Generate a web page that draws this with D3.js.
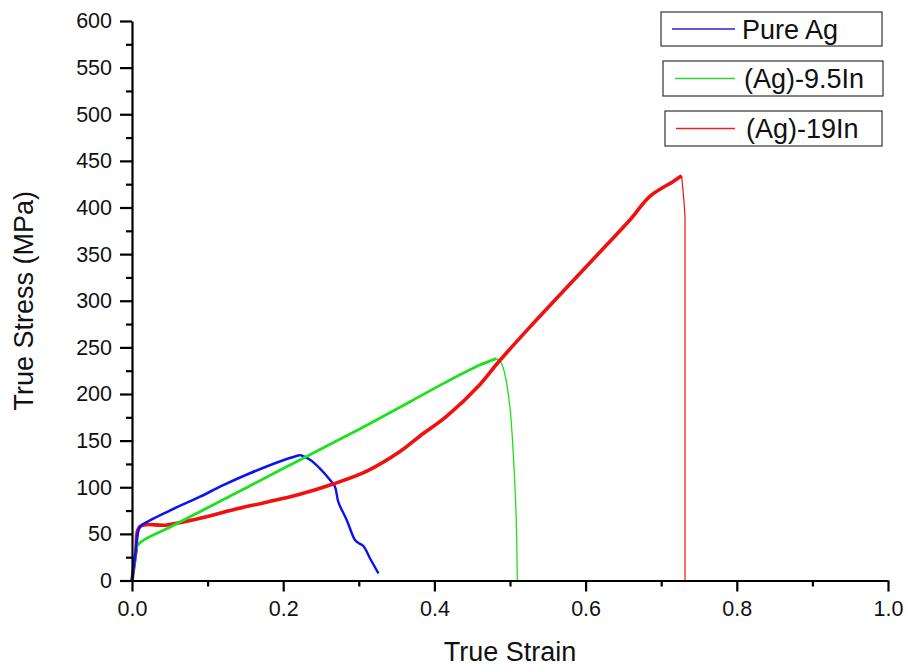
<!DOCTYPE html>
<html>
<head>
<meta charset="utf-8">
<script src="https://cdn.jsdelivr.net/npm/d3@7"></script>
<style>
  body { margin: 0; background: #fff; }
  svg { font-family: "Liberation Sans", Arial, sans-serif; }
</style>
</head>
<body>
<div id="chart"></div>
<script>
// values: [true strain, true stress (MPa)]
const pureAgLoad = [
  [0, 0], [0.004, 25], [0.0097, 57], [0.015, 60.6], [0.05, 75], [0.09, 89.9],
  [0.12, 102], [0.156, 115], [0.2, 129], [0.222, 134.6]
];
const pureAgFracture = [
  [0.222, 134.6], [0.235, 129.8], [0.25, 119], [0.262, 107.8], [0.2685, 100.6],
  [0.273, 84], [0.284, 64.9], [0.295, 43.4], [0.3, 40], [0.306, 37],
  [0.316, 22], [0.326, 7.7]
];
const ag95InLoad = [
  [0, 0], [0.004, 22], [0.0075, 38], [0.05, 57], [0.1, 78], [0.15, 99],
  [0.2, 120], [0.25, 141], [0.3, 162], [0.33, 175], [0.372, 193.6],
  [0.416, 213], [0.46, 231], [0.482, 238]
];
const ag95InFracture = [
  [0.482, 238], [0.488, 234], [0.493, 222], [0.5, 185], [0.505, 126],
  [0.508, 72], [0.5097, 0]
];
const ag19InLoad = [
  [0, 0], [0.005, 30], [0.0106, 57.7], [0.046, 59.5], [0.09, 66.7],
  [0.134, 76], [0.178, 84], [0.222, 92.5], [0.266, 103.5], [0.31, 117],
  [0.354, 138], [0.381, 155], [0.416, 176], [0.46, 210], [0.4845, 234],
  [0.5265, 272], [0.584, 322], [0.628, 360], [0.66, 388], [0.685, 412],
  [0.716, 428], [0.727, 434]
];
const ag19InFracture = [
  [0.727, 434], [0.73, 408], [0.7315, 390], [0.7315, 0]
];

const seriesNames = ["Pure Ag", "(Ag)-9.5In", "(Ag)-19In"];
const seriesColors = ["#0a14f0", "#1ee01e", "#f01010"];
const legendColors = ["#2424c8", "#33d033", "#f02020"];

const xTicks = [0, 0.2, 0.4, 0.6, 0.8, 1.0];
const xMinorTicks = [0.1, 0.3, 0.5, 0.7, 0.9];
const yTicks = [0, 50, 100, 150, 200, 250, 300, 350, 400, 450, 500, 550, 600];
const yMinorTicks = d3.range(25, 600, 50);

const WIDTH = 907;
const HEIGHT = 667;
const PLOT = { LEFT: 132, RIGHT: 888, TOP: 21, BOTTOM: 580.5 };

const x = d3.scaleLinear([0, 1], [PLOT.LEFT, PLOT.RIGHT]);
const y = d3.scaleLinear([0, 600], [PLOT.BOTTOM, PLOT.TOP]);

const svg = d3
  .select("#chart")
  .append("svg")
  .attr("width", WIDTH)
  .attr("height", HEIGHT);

const smoothLine = d3
  .line()
  .x((d) => x(d[0]))
  .y((d) => y(d[1]))
  .curve(d3.curveCatmullRom.alpha(0.5));

const straightLine = d3
  .line()
  .x((d) => x(d[0]))
  .y((d) => y(d[1]));

const drawCurve = (data, color, width, lineGen) =>
  svg
    .append("path")
    .datum(data)
    .attr("fill", "none")
    .attr("stroke", color)
    .attr("stroke-width", width)
    .attr("stroke-linejoin", "round")
    .attr("d", lineGen);

// thin fracture segments first, thick loading parts on top
drawCurve(pureAgFracture, seriesColors[0], 2.4, smoothLine);
drawCurve(ag95InFracture, seriesColors[1], 1.3, smoothLine);
drawCurve(ag19InFracture, seriesColors[2], 1.2, straightLine);
drawCurve(ag19InLoad, seriesColors[2], 3.6, smoothLine);
drawCurve(ag95InLoad, seriesColors[1], 2.8, smoothLine);
drawCurve(pureAgLoad, seriesColors[0], 2.6, smoothLine);

const styleAxis = (g, fontSize) => {
  g.select(".domain").attr("stroke-width", 2.2);
  g.selectAll(".tick line").attr("stroke-width", 2.2);
  g.selectAll(".tick text")
    .attr("font-size", fontSize)
    .attr("font-family", "Liberation Sans, Arial, sans-serif")
    .attr("fill", "#111");
};

// minor ticks
svg
  .append("g")
  .attr("transform", `translate(0, ${PLOT.BOTTOM})`)
  .call(d3.axisBottom(x).tickValues(xMinorTicks).tickSize(6).tickFormat(""))
  .call((g) => g.select(".domain").remove())
  .selectAll(".tick line")
  .attr("stroke-width", 2.2);

svg
  .append("g")
  .attr("transform", `translate(${PLOT.LEFT}, 0)`)
  .call(d3.axisLeft(y).tickValues(yMinorTicks).tickSize(6).tickFormat(""))
  .call((g) => g.select(".domain").remove())
  .selectAll(".tick line")
  .attr("stroke-width", 2.2);

svg
  .append("g")
  .attr("transform", `translate(0, ${PLOT.BOTTOM})`)
  .call(
    d3.axisBottom(x)
      .tickValues(xTicks)
      .tickSize(11)
      .tickSizeOuter(0)
      .tickPadding(9)
      .tickFormat(d3.format(".1f"))
  )
  .call((g) => styleAxis(g, 21.5));

svg
  .append("g")
  .attr("transform", `translate(${PLOT.LEFT}, 0)`)
  .call(
    d3.axisLeft(y)
      .tickValues(yTicks)
      .tickSize(12)
      .tickSizeOuter(0)
      .tickPadding(8)
  )
  .call((g) => styleAxis(g, 21.5));

svg
  .append("text")
  .attr("x", (PLOT.LEFT + PLOT.RIGHT) / 2)
  .attr("y", 661)
  .attr("text-anchor", "middle")
  .attr("font-size", 27)
  .attr("fill", "#111")
  .text("True Strain");

svg
  .append("text")
  .attr("transform", `translate(33, ${(PLOT.TOP + PLOT.BOTTOM) / 2}) rotate(-90)`)
  .attr("text-anchor", "middle")
  .attr("font-size", 27)
  .attr("fill", "#111")
  .text("True Stress (MPa)");

// legend: one framed box per series
const legendBoxes = [
  { x0: 661, x1: 882, y0: 12, y1: 46, lx: 672, tx: 742 },
  { x0: 663, x1: 883, y0: 61, y1: 96, lx: 675, tx: 744 },
  { x0: 665, x1: 882, y0: 111, y1: 146, lx: 676, tx: 746 },
];

legendBoxes.forEach((b, i) => {
  const g = svg.append("g");
  g.append("rect")
    .attr("x", b.x0)
    .attr("y", b.y0)
    .attr("width", b.x1 - b.x0)
    .attr("height", b.y1 - b.y0)
    .attr("fill", "#fff")
    .attr("stroke", "#333")
    .attr("stroke-width", 1.2);
  const cy = (b.y0 + b.y1) / 2;
  g.append("line")
    .attr("x1", b.lx)
    .attr("x2", 735)
    .attr("y1", cy)
    .attr("y2", cy)
    .attr("stroke", legendColors[i])
    .attr("stroke-width", 1.3);
  g.append("text")
    .attr("x", b.tx)
    .attr("y", cy)
    .attr("dy", "0.36em")
    .attr("font-size", 27)
    .attr("fill", "#111")
    .text(seriesNames[i]);
});
</script>
</body>
</html>
